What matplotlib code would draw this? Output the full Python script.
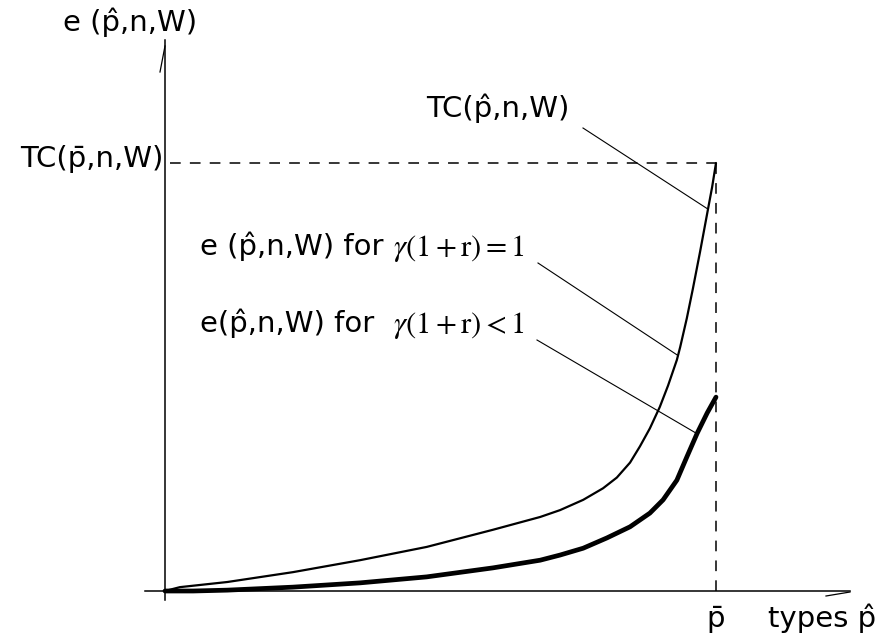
import numpy as np
import matplotlib.pyplot as plt

# types p-hat, scaled so that p-bar = 1
x_thin = [0.0, 0.027, 0.113, 0.232, 0.354, 0.475, 0.595, 0.681, 0.717, 0.759,
          0.795, 0.820, 0.844, 0.862, 0.880, 0.898, 0.913, 0.929, 0.935, 0.947,
          0.958, 0.971, 0.984, 0.993, 1.0]
# e(p,n,W) for gamma(1+r)=1  (equals TC at p-bar)
y_thin = [0.0, 0.009, 0.021, 0.044, 0.072, 0.103, 0.143, 0.173, 0.189, 0.213,
          0.240, 0.265, 0.300, 0.338, 0.380, 0.430, 0.480, 0.540, 0.570, 0.637,
          0.706, 0.792, 0.882, 0.944, 1.0]

x_thick = [0.0, 0.051, 0.113, 0.232, 0.354, 0.475, 0.595, 0.681, 0.717, 0.759,
           0.802, 0.844, 0.880, 0.904, 0.929, 0.947, 0.966, 0.984, 1.0]
# e(p,n,W) for gamma(1+r)<1
y_thick = [0.0, 0.0, 0.002, 0.009, 0.019, 0.033, 0.054, 0.072, 0.084, 0.100,
           0.124, 0.150, 0.182, 0.213, 0.259, 0.313, 0.369, 0.416, 0.453]

p_bar = 1.0
tc_bar = 1.0

W, H = 883, 644
fig = plt.figure(figsize=(W / 100, H / 100), dpi=100)
ax = fig.add_axes([0, 0, 1, 1])
ax.set_axis_off()

# origin at pixel (165, 591), p-bar at x px 716, TC-bar at y px 163
sx, sy = 551.0, 428.0
ox, oy = 165.0, 591.0
ax.set_xlim(-ox / sx, (W - ox) / sx)
ax.set_ylim((oy - H) / sy, oy / sy)


def px(xp, yp):
    # image pixel -> data coords (for label/leader placement only)
    return (xp - ox) / sx, (oy - yp) / sy


# axes
ax.plot([px(145, 0)[0], px(850, 0)[0]], [0, 0], color='black', lw=1.1)
ax.plot([0, 0], [px(0, 600)[1], px(0, 40)[1]], color='black', lw=1.1)
# little arrow strokes at the axis ends
a, b = px(160, 72), px(165, 46)
ax.plot([a[0], b[0]], [a[1], b[1]], color='black', lw=0.9)
a, b = px(826, 596), px(850, 592)
ax.plot([a[0], b[0]], [a[1], b[1]], color='black', lw=0.9)

# dashed guides
ax.plot([px(170, 0)[0], p_bar], [tc_bar, tc_bar], color='black', lw=1.1,
        dashes=(7, 6))
ax.plot([p_bar, p_bar], [0, tc_bar], color='black', lw=1.1, dashes=(7, 6))

# curves
ax.plot(x_thin, y_thin, color='black', lw=1.6, solid_joinstyle='round',
        solid_capstyle='round')
ax.plot(x_thick, y_thick, color='black', lw=3.4, solid_joinstyle='round',
        solid_capstyle='round')


# leader lines
def leader(start_px, xs, ys, x_end):
    s = px(*start_px)
    ye = np.interp(x_end, xs, ys)
    ax.plot([s[0], x_end], [s[1], ye], color='black', lw=0.8)


leader((583, 128), x_thin, y_thin, px(708, 0)[0])
leader((538, 263), x_thin, y_thin, px(678, 0)[0])
leader((537, 340), x_thick, y_thick, px(697, 0)[0])

fs = 21
sans = 'DejaVu Sans'
plt.rcParams['mathtext.fontset'] = 'stix'


def label(xp, yp, s, ha='left', **kw):
    fig.text(xp / W, 1 - yp / H, s, ha=ha, va='baseline', fontsize=fs,
             family=sans, **kw)


label(63, 31, 'e (p\u0302,n,W)')
label(163, 167, 'TC(p\u0304,n,W)', ha='right')
label(426, 117, 'TC(p\u0302,n,W)')
label(200, 255, 'e (p\u0302,n,W) for')
label(200, 332, 'e(p\u0302,n,W) for')
fig.text(393 / W, 1 - 256 / H, r'$\gamma(1+\mathrm{r})=1$', fontsize=22,
         va='baseline')
fig.text(393 / W, 1 - 333 / H, r'$\gamma(1+\mathrm{r})<1$', fontsize=22,
         va='baseline')
label(716, 627, 'p\u0304', ha='center')
label(768, 627, 'types p\u0302')

fig.savefig('out.png', dpi=100)
